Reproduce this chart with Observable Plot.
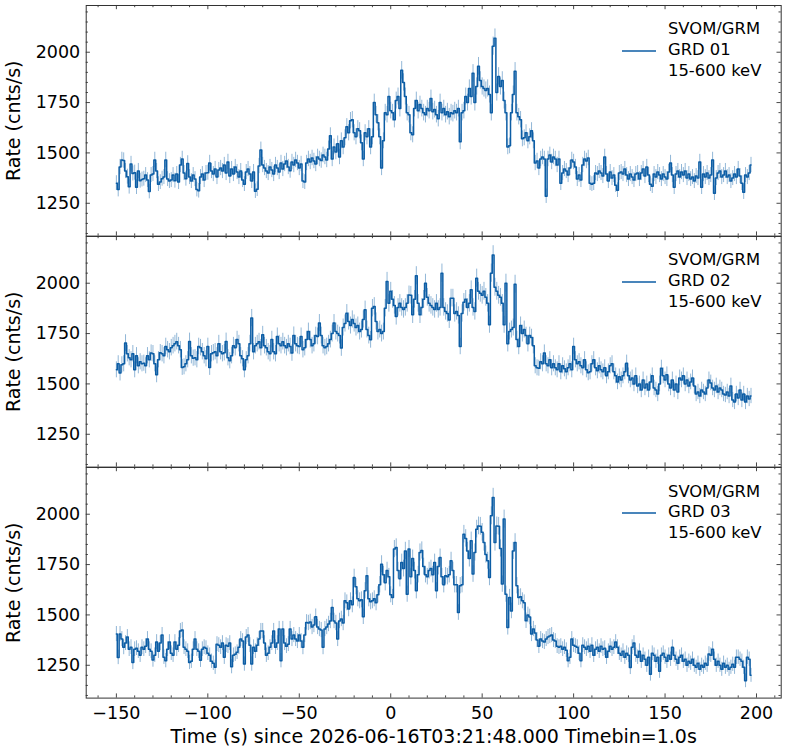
<!DOCTYPE html>
<html><head><meta charset="utf-8">
<script src="https://cdn.jsdelivr.net/npm/d3@7"></script>
<script src="https://cdn.jsdelivr.net/npm/@observablehq/plot@0.6"></script>
<style>
body{margin:0;background:#fff;}
#chart{position:relative;width:787px;height:751px;font-family:"DejaVu Sans",sans-serif;background:#fff;}
#chart > svg{position:absolute;left:0;}
</style></head><body><div id="chart"></div>
<script>
// ---------------- data ----------------
const tStart = -150; // first bin time (s), 1 s bins
const instrument = "SVOM/GRM";
const detectors = ["GRD 01", "GRD 02", "GRD 03"];
const energyBand = "15-600 keV";
const xLabel = "Time (s) since 2026-06-16T03:21:48.000 Timebin=1.0s";
const yLabel = "Rate (cnts/s)";
const xMajorTicks = [-150, -100, -50, 0, 50, 100, 150, 200];
const yMajorTicks = [1250, 1500, 1750, 2000];

const grd01 = [
1350,1318,1430,1465,1462,1410,1382,1332,1445,1398,
1402,1330,1410,1362,1368,1372,1390,1365,1308,1390,
1395,1465,1410,1345,1355,1372,1380,1465,1370,1360,
1365,1390,1362,1395,1355,1440,1470,1400,1372,1448,
1380,1360,1390,1370,1318,1312,1380,1395,1365,1400,
1402,1450,1410,1395,1420,1380,1415,1425,1410,1440,
1400,1455,1385,1420,1395,1430,1405,1380,1410,1365,
1345,1405,1420,1395,1360,1405,1310,1320,1435,1515,
1440,1425,1410,1400,1430,1415,1395,1440,1425,1405,
1450,1420,1445,1460,1430,1412,1455,1440,1465,1450,
1425,1445,1360,1355,1450,1470,1455,1475,1460,1445,
1480,1470,1462,1490,1480,1465,1520,1585,1470,1530,
1505,1545,1480,1560,1530,1575,1630,1600,1660,1665,
1600,1580,1620,1610,1550,1470,1600,1580,1620,1530,
1580,1750,1690,1650,1580,1425,1560,1700,1690,1780,
1710,1700,1665,1760,1780,1720,1910,1850,1780,1700,
1690,1600,1590,1720,1760,1710,1740,1720,1700,1690,
1720,1710,1770,1705,1715,1690,1670,1750,1700,1720,
1690,1705,1680,1700,1695,1710,1700,1720,1555,1700,
1710,1780,1750,1820,1780,1895,1750,1830,1930,1860,
1830,1820,1810,1820,1790,1700,2030,2070,1800,1880,
1830,1860,1760,1700,1530,1535,1700,1790,1905,1700,
1680,1665,1570,1575,1600,1560,1580,1610,1560,1450,
1460,1425,1470,1480,1470,1285,1470,1490,1455,1480,
1470,1440,1470,1350,1400,1420,1410,1390,1425,1465,
1455,1430,1370,1390,1365,1440,1470,1460,1475,1350,
1345,1350,1400,1395,1410,1400,1385,1480,1395,1360,
1405,1375,1390,1340,1315,1400,1405,1395,1420,1390,
1370,1395,1380,1365,1395,1400,1370,1400,1420,1385,
1430,1390,1345,1335,1395,1380,1405,1390,1370,1395,
1380,1370,1405,1450,1390,1330,1395,1410,1380,1405,
1390,1410,1375,1395,1370,1380,1360,1385,1375,1455,
1330,1395,1380,1400,1375,1390,1465,1300,1375,1400,
1410,1380,1390,1410,1380,1390,1360,1375,1395,1380,
1420,1385,1350,1305,1390,1380,1400,1440
];

const grd02 = [
1570,1600,1554,1595,1600,1703,1650,1630,1620,1650,
1570,1640,1590,1610,1600,1603,1590,1640,1620,1653,
1650,1600,1545,1620,1655,1650,1640,1686,1670,1660,
1680,1690,1700,1710,1690,1670,1582,1585,1600,1620,
1711,1640,1628,1630,1620,1686,1680,1660,1640,1625,
1686,1582,1650,1655,1660,1640,1700,1660,1650,1655,
1711,1630,1615,1640,1690,1680,1720,1700,1640,1625,
1570,1620,1640,1700,1827,1660,1690,1700,1710,1680,
1744,1690,1680,1660,1650,1720,1660,1650,1736,1700,
1690,1710,1690,1680,1700,1686,1653,1741,1700,1690,
1686,1736,1670,1680,1720,1760,1720,1690,1700,1740,
1736,1802,1740,1690,1680,1686,1700,1720,1750,1802,
1760,1750,1740,1678,1780,1800,1851,1810,1790,1820,
1800,1780,1790,1760,1770,1820,1868,1770,1740,1719,
1876,1885,1810,1760,1770,1750,1760,1876,2009,1900,
1960,1920,1890,1835,1880,1900,1880,1870,1880,1900,
1942,1940,1843,1920,2037,1900,1843,1880,1920,2000,
1930,1900,1890,1880,1870,1900,1870,1880,2050,1880,
1860,1850,1818,1926,1926,1850,1860,1840,1686,1850,
1905,1920,1880,1900,1967,1880,1860,2025,1960,1950,
1940,1960,1930,1900,1794,2050,2140,1980,1960,1940,
1930,1900,1794,2000,1700,1760,1770,1780,1995,1720,
1686,1790,1750,1770,1740,1700,1740,1730,1690,1590,
1580,1578,1610,1600,1653,1600,1590,1620,1580,1600,
1580,1570,1600,1560,1590,1575,1560,1580,1600,1570,
1686,1620,1600,1610,1590,1580,1620,1570,1555,1560,
1600,1620,1580,1565,1590,1570,1560,1580,1540,1560,
1590,1600,1560,1540,1510,1535,1520,1540,1560,1603,
1540,1520,1530,1500,1540,1490,1500,1470,1520,1480,
1500,1470,1510,1540,1480,1470,1450,1500,1578,1540,
1520,1545,1500,1480,1520,1470,1500,1460,1530,1520,
1540,1500,1520,1490,1510,1530,1490,1450,1460,1440,
1470,1460,1450,1480,1520,1505,1480,1470,1490,1460,
1480,1470,1450,1445,1460,1440,1490,1420,1410,1450,
1430,1470,1420,1450,1410,1440,1425,1440
];

const grd03 = [
1405,1289,1405,1380,1339,1360,1390,1330,1340,1264,
1330,1335,1320,1300,1340,1330,1345,1380,1330,1320,
1276,1300,1365,1320,1360,1400,1290,1273,1330,1365,
1310,1300,1365,1330,1350,1420,1425,1340,1330,1320,
1264,1270,1330,1380,1330,1320,1275,1330,1340,1335,
1310,1300,1270,1260,1240,1355,1350,1340,1360,1290,
1350,1345,1360,1243,1300,1305,1315,1340,1380,1370,
1256,1390,1400,1350,1256,1340,1320,1350,1380,1420,
1420,1360,1300,1310,1340,1360,1420,1340,1360,1430,
1273,1430,1360,1345,1355,1430,1380,1400,1380,1370,
1400,1370,1339,1400,1463,1460,1465,1440,1450,1491,
1440,1430,1425,1339,1430,1440,1455,1470,1537,1470,
1460,1380,1470,1480,1460,1570,1560,1530,1570,1550,
1686,1640,1580,1570,1575,1491,1620,1694,1580,1565,
1570,1580,1560,1600,1650,1752,1700,1660,1720,1690,
1600,1587,1827,1835,1720,1680,1760,1730,1818,1603,
1827,1690,1780,1720,1620,1700,1810,1820,1740,1700,
1690,1720,1730,1700,1760,1620,1740,1785,1690,1650,
1694,1690,1700,1769,1720,1650,1650,1512,1645,1650,
1901,1880,1818,1780,1868,1703,1810,1926,1942,1940,
1910,1860,1800,1769,1686,1992,2083,1860,1942,1940,
1830,1653,1976,1603,1438,1587,1520,1818,1860,1645,
1587,1590,1570,1560,1471,1500,1490,1405,1430,1410,
1375,1345,1380,1370,1365,1380,1390,1395,1400,1375,
1370,1345,1340,1345,1330,1340,1325,1273,1290,1380,
1350,1345,1340,1310,1273,1350,1340,1330,1345,1320,
1350,1300,1330,1340,1320,1345,1330,1335,1290,1320,
1345,1330,1340,1365,1340,1310,1300,1320,1290,1310,
1300,1239,1340,1360,1300,1290,1320,1270,1300,1280,
1250,1290,1206,1310,1300,1270,1290,1220,1300,1310,
1290,1270,1300,1280,1339,1300,1280,1260,1290,1300,
1270,1280,1250,1270,1260,1280,1250,1240,1260,1230,
1250,1240,1260,1250,1306,1300,1330,1280,1250,1270,
1250,1230,1260,1240,1250,1230,1240,1255,1240,1290,
1290,1280,1270,1240,1173,1290,1280,1200
];

const series = [grd01, grd02, grd03];

// ---------------- layout ----------------
const color = "#0C5DA5";
const W = 787, H = 751;
const frameLeft = 85.7, frameRight = 780.7;
const plotW = frameRight - frameLeft;
const panelH = 230.6;
const panelTops = [5.3, 235.9, 466.5];
const pad = 6;
const xDomain = [-166.5, 213.5];
const yDomain = [1087, 2232];
const fmt = d3.format("d");
const xMinor = d3.range(-160, 211, 10).filter(d => !xMajorTicks.includes(d));
const yMinor = d3.range(1100, 2201, 50).filter(d => !yMajorTicks.includes(d));
const tickStyle = {stroke: "#333", strokeWidth: 0.9};
const majorLen = 4.2, minorLen = 2.2;

const chart = document.getElementById("chart");

series.forEach((values, i) => {
  const data = values.map((rate, k) => ({t: tStart + k, rate}));
  const last = i === series.length - 1;
  const marginBottom = last ? H - (panelTops[i] + panelH) : pad;
  const marks = [
    Plot.ruleX(data, {x: "t", y1: d => d.rate - Math.sqrt(d.rate), y2: d => d.rate + Math.sqrt(d.rate),
      stroke: color, strokeOpacity: 0.45, strokeWidth: 1}),
    Plot.line(data, {x: "t", y: "rate", curve: "step", stroke: color, strokeWidth: 1.5}),
    Plot.tickX(xMajorTicks, {x: d => d, insetTop: panelH - majorLen, ...tickStyle}),
    Plot.tickX(xMajorTicks, {x: d => d, insetBottom: panelH - majorLen, ...tickStyle}),
    Plot.tickX(xMinor, {x: d => d, insetTop: panelH - minorLen, ...tickStyle}),
    Plot.tickX(xMinor, {x: d => d, insetBottom: panelH - minorLen, ...tickStyle}),
    Plot.tickY(yMajorTicks, {y: d => d, insetRight: plotW - majorLen, ...tickStyle}),
    Plot.tickY(yMajorTicks, {y: d => d, insetLeft: plotW - majorLen, ...tickStyle}),
    Plot.tickY(yMinor, {y: d => d, insetRight: plotW - minorLen, ...tickStyle}),
    Plot.tickY(yMinor, {y: d => d, insetLeft: plotW - minorLen, ...tickStyle}),
    Plot.axisY({ticks: yMajorTicks, tickSize: 0, tickPadding: 6, fontSize: 17.5, tickFormat: fmt, label: null}),
    Plot.frame({stroke: "#333", strokeWidth: 1}),
    Plot.text([yLabel], {text: d => d, frameAnchor: "left", rotate: -90, dx: 13.5 - frameLeft,
      fontSize: 19, textAnchor: "middle", lineAnchor: "middle", fill: "black"})
  ];
  if (last) {
    marks.push(Plot.axisX({ticks: xMajorTicks, tickSize: 0, tickPadding: 8, fontSize: 17.5, tickFormat: fmt, label: null}));
    marks.push(Plot.text([xLabel], {text: d => d, frameAnchor: "bottom", dy: 39, fontSize: 19,
      textAnchor: "middle", lineAnchor: "middle", fill: "black"}));
  }
  const svg = Plot.plot({
    width: W,
    height: pad + panelH + marginBottom,
    marginLeft: frameLeft,
    marginRight: W - frameRight,
    marginTop: pad,
    marginBottom,
    x: last ? {domain: xDomain} : {domain: xDomain, axis: null},
    y: {domain: yDomain},
    style: {background: "transparent", overflow: "visible", fontFamily: "DejaVu Sans", color: "black"},
    marks
  });
  svg.style.top = (panelTops[i] - pad) + "px";
  // legend
  const g = d3.select(svg).append("g")
    .attr("font-family", "DejaVu Sans").attr("font-size", 16.4)
    .attr("fill", "black").attr("text-anchor", "start");
  g.append("line").attr("x1", 622).attr("x2", 656)
    .attr("y1", pad + 46).attr("y2", pad + 46)
    .attr("stroke", color).attr("stroke-width", 1.5);
  [instrument, detectors[i], energyBand].forEach((s, j) => {
    g.append("text").attr("x", 668).attr("y", pad + 29.5 + j * 20.6)
      .attr("text-anchor", "start").text(s);
  });
  chart.appendChild(svg);
});
</script></body></html>
